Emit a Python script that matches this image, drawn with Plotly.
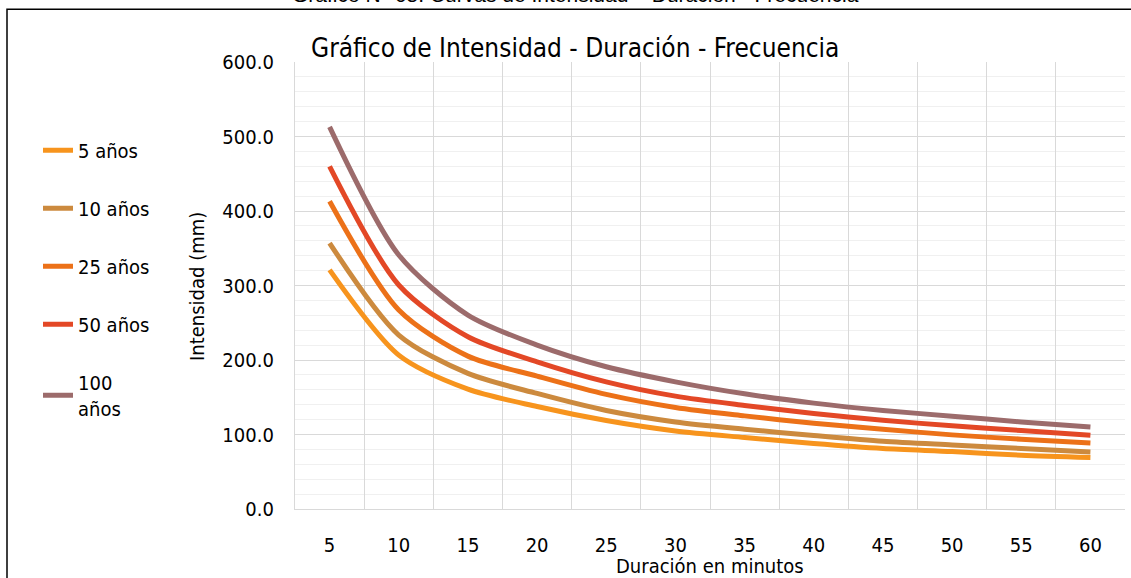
import plotly.graph_objects as go

durations = ["5", "10", "15", "20", "25", "30", "35", "40", "45", "50", "55", "60"]
series_names = ["5 años", "10 años", "25 años", "50 años", "100<br>años"]
i_5 = [321, 206.6, 160.9, 137.6, 118.8, 104.8, 96.0, 87.9, 81.2, 77.1, 72.2, 69.1]
i_10 = [357, 233.5, 182.0, 155.1, 132.3, 116.9, 107.1, 98.7, 91.0, 86.0, 81.2, 76.6]
i_25 = [413, 267.1, 205.2, 178.4, 153.8, 136.3, 125.0, 115.2, 107.1, 99.5, 93.7, 88.7]
i_50 = [460, 300.7, 231.2, 197.6, 170.7, 151.5, 139.0, 128.2, 119.2, 111.6, 105.4, 99.1]
i_100 = [513, 341.0, 260.3, 220.0, 190.9, 170.7, 154.6, 142.1, 132.3, 124.6, 116.9, 110.2]
colors = ["#F7941D", "#CC8A3E", "#EC7118", "#E34826", "#9C6B6B"]

W, H = 1131, 578
L, R, T, B = 295, 1125, 62.3, 508.7
PW, PH = R - L, B - T

def px(x):
    return (x - L) / PW

def py(y):
    return (B - y) / PH

FONT = "Liberation Sans Narrow, Arial Narrow, DejaVu Sans Condensed, sans-serif"

fig = go.Figure()
for name, vals, c in zip(series_names, [i_5, i_10, i_25, i_50, i_100], colors):
    fig.add_trace(go.Scatter(
        x=durations, y=vals, name=name, mode="lines",
        line=dict(color=c, width=5, shape="spline", smoothing=0.8),
        legendgroup=name,
    ))

fig.update_layout(
    width=W, height=H,
    margin=dict(l=L, r=W - R, t=T, b=H - B),
    paper_bgcolor="white", plot_bgcolor="white",
    font=dict(family=FONT, size=20, color="#000000"),
    showlegend=True,
    legend=dict(x=px(38), y=py(131), xanchor="left", yanchor="top",
                font=dict(size=20), tracegroupgap=29, bgcolor="rgba(0,0,0,0)"),
    xaxis=dict(type="category", tickson="boundaries", showgrid=True,
               range=[-0.5, len(durations) - 0.5],
               gridcolor="#d9d9d9", gridwidth=1.3, showline=True, linecolor="#d9d9d9",
               linewidth=1.3, ticks="", ticklabelstandoff=18, mirror=False,
               tickfont=dict(size=20)),
    yaxis=dict(range=[0, 600], dtick=100, tickformat=".1f", showgrid=True,
               gridcolor="#d9d9d9", gridwidth=1.3, zeroline=False, showline=True,
               linecolor="#d9d9d9", linewidth=1.3, ticks="", ticklabelstandoff=16,
               tickfont=dict(size=20),
               minor=dict(dtick=20, showgrid=True, gridcolor="#f0f0f0", gridwidth=1)),
)

fig.add_annotation(text="Gráfico de Intensidad - Duración - Frecuencia",
                   xref="paper", yref="paper", x=px(309), y=py(48),
                   xanchor="left", yanchor="middle", showarrow=False,
                   font=dict(size=26, family=FONT))
fig.add_annotation(text="Intensidad (mm)", xref="paper", yref="paper",
                   x=px(197), y=py(287), xanchor="center", yanchor="middle",
                   textangle=-90, showarrow=False, font=dict(size=20, family=FONT))
fig.add_annotation(text="Duración en minutos", xref="paper", yref="paper",
                   x=px(710), y=py(566), xanchor="center", yanchor="middle",
                   showarrow=False, font=dict(size=20, family=FONT))
fig.add_annotation(text="Gráfico N° 05: Curvas de Intensidad – Duración - Frecuencia",
                   xref="paper", yref="paper", x=px(575), y=py(-5), xanchor="center",
                   yanchor="middle", showarrow=False,
                   font=dict(size=21, family="Liberation Sans, Arial, sans-serif"))
fig.add_shape(type="rect", xref="paper", yref="paper",
              x0=px(7), x1=px(1145), y0=py(9.5), y1=py(600),
              line=dict(color="#000000", width=1.5), fillcolor="rgba(0,0,0,0)", layer="below")

fig.write_html("out.html", config={"displayModeBar": False},
               post_script="document.body.style.margin='0';")
